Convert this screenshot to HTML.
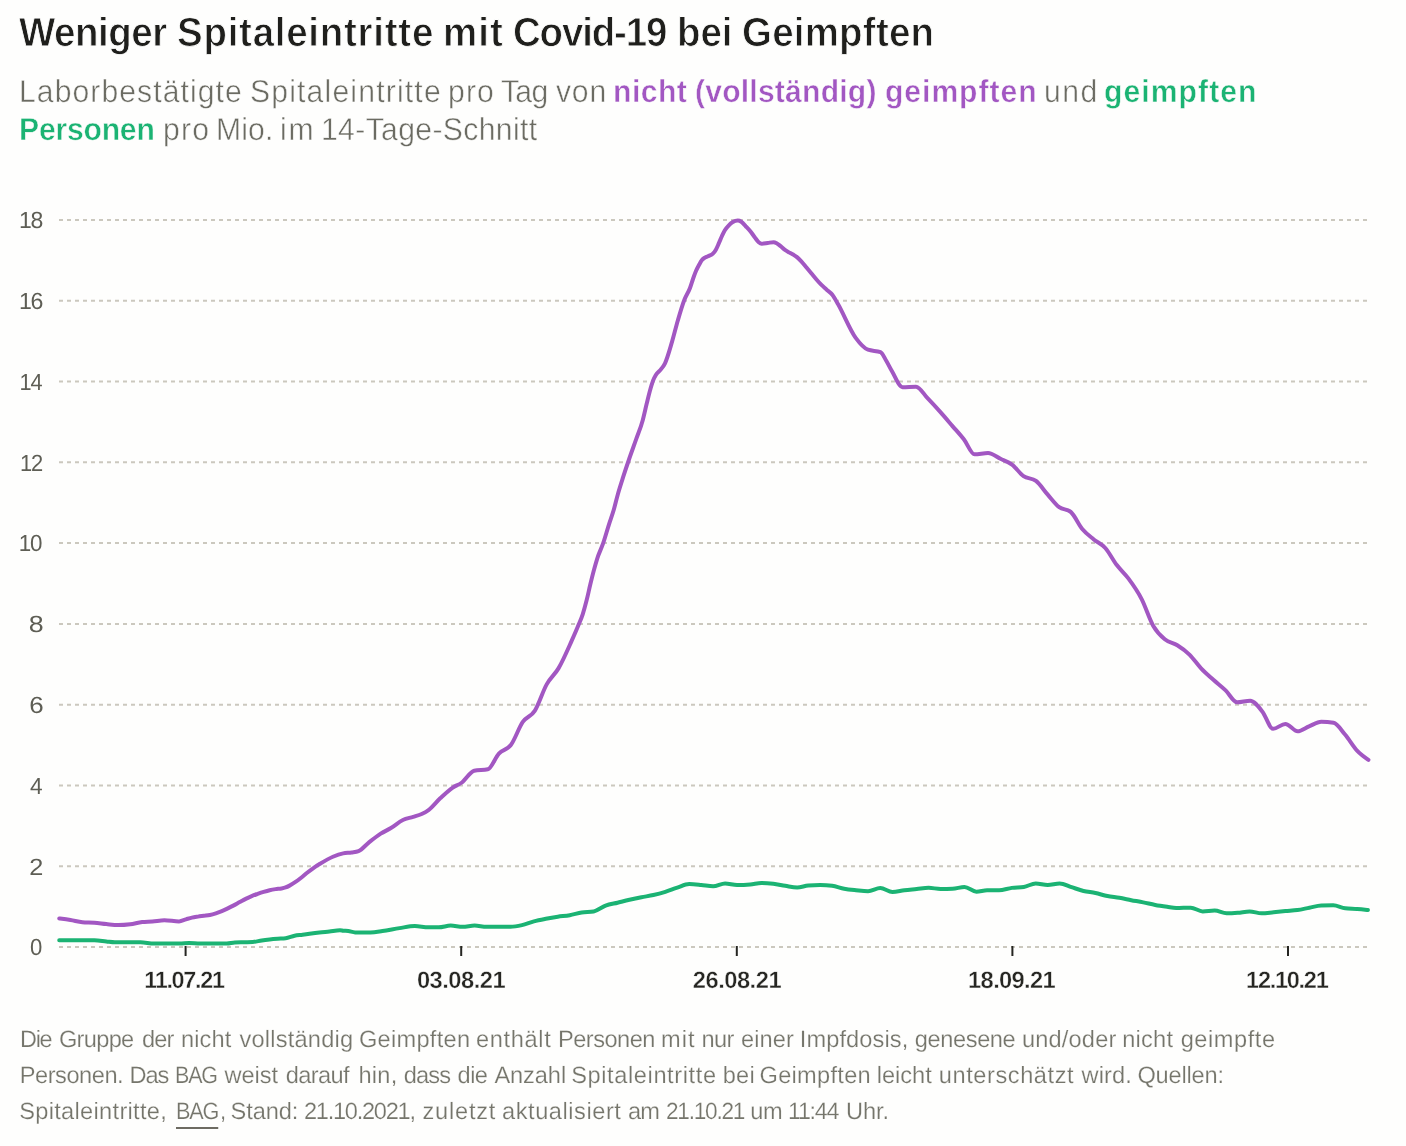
<!DOCTYPE html>
<html lang="de">
<head>
<meta charset="utf-8">
<title>Weniger Spitaleintritte mit Covid-19 bei Geimpften</title>
<style>
html,body{margin:0;padding:0}
body{width:1406px;height:1146px;position:relative;overflow:hidden;background:#fefefd;font-family:"Liberation Sans",sans-serif;text-rendering:geometricPrecision}
.ln{position:absolute;left:0;width:1406px;margin:0;padding:0;font-weight:normal;white-space:nowrap}
.ln span,.ln a{display:inline-block;position:relative;white-space:nowrap;transform-origin:0 50%}
h1.ln{font-size:40.65px;line-height:48px;height:48px;font-weight:bold;color:#1f1f1c;-webkit-text-stroke:0.85px #fefefd}
p.sub{font-size:31.7px;line-height:38px;height:38px;color:#6b6b62;-webkit-text-stroke:0.5px #fefefd}
p.sub .pu{color:#a257c2;font-weight:bold}
p.sub .gr{color:#1bb373;font-weight:bold}
p.foot{font-size:23.6px;line-height:36px;height:36px;color:#75756b;-webkit-text-stroke:0.2px #fefefd}
p.foot a{color:inherit;text-decoration:none}
p.foot a::after{content:"";position:absolute;left:0;right:0;top:32.88px;height:2px;background:#6d6b62}
svg{position:absolute;left:0;top:0}
svg text{font-family:"Liberation Sans",sans-serif;paint-order:fill stroke;text-rendering:geometricPrecision}
.yl{font-size:23.4px;fill:#5e5e55}
.xl{font-size:23.7px;fill:#262622;font-weight:bold;stroke:#fefefd;stroke-width:0.37px}

</style>
</head>
<body>
<h1 class="ln title" style="top:7.71px"><span style="left:19.47px;letter-spacing:-0.482px;transform:scaleX(0.9450)">Weniger</span> <span style="left:9.41px;letter-spacing:0.821px;transform:scaleX(0.9450)">Spitaleintritte</span> <span style="left:-7.93px;letter-spacing:1.106px;transform:scaleX(0.9450)">mit</span> <span style="left:-13.36px;letter-spacing:-1.198px;transform:scaleX(0.9450)">Covid-19</span> <span style="left:-22.56px;letter-spacing:-0.044px;transform:scaleX(0.9450)">bei</span> <span style="left:-27.91px;letter-spacing:0.279px;transform:scaleX(0.9450)">Geimpften</span></h1>
<p class="ln sub" style="top:72.32px"><span style="left:19.35px;letter-spacing:1.140px;transform:scaleX(0.9500)">Laborbestätigte</span> <span style="left:5.43px;letter-spacing:1.250px;transform:scaleX(0.9500)">Spitaleintritte</span> <span style="left:-6.67px;letter-spacing:1.202px;transform:scaleX(0.9500)">pro</span> <span style="left:-12.49px;letter-spacing:-0.733px;transform:scaleX(0.9500)">Tag</span> <span style="left:-15.20px;letter-spacing:0.846px;transform:scaleX(0.9500)">von</span> <span class="pu" style="left:-20.75px;letter-spacing:0.518px;transform:scaleX(0.9500)">nicht</span> <span class="pu" style="left:-25.49px;letter-spacing:0.218px;transform:scaleX(0.9500)">(vollständig)</span> <span class="pu" style="left:-36.01px;letter-spacing:1.015px;transform:scaleX(0.9500)">geimpften</span> <span style="left:-46.32px;letter-spacing:1.587px;transform:scaleX(0.9500)">und</span> <span class="gr" style="left:-52.42px;letter-spacing:1.133px;transform:scaleX(0.9500)">geimpften</span></p>
<p class="ln sub" style="top:110.32px"><span class="gr" style="left:19.35px;letter-spacing:-0.210px;transform:scaleX(0.9500)">Personen</span> <span style="left:11.50px;letter-spacing:1.360px;transform:scaleX(0.9500)">pro</span> <span style="left:5.90px;letter-spacing:0.173px;transform:scaleX(0.9500)">Mio.</span> <span style="left:0.12px;letter-spacing:1.960px;transform:scaleX(0.9500)">im</span> <span style="left:-5.05px;letter-spacing:0.397px;transform:scaleX(0.9500)">14-Tage-Schnitt</span></p>
<svg width="1406" height="1146" viewBox="0 0 1406 1146">
<g stroke="#cbc8be" stroke-width="2" stroke-dasharray="4 4" fill="none">
<line x1="59" x2="1368" y1="220.00" y2="220.00"/>
<line x1="59" x2="1368" y1="300.78" y2="300.78"/>
<line x1="59" x2="1368" y1="381.56" y2="381.56"/>
<line x1="59" x2="1368" y1="462.33" y2="462.33"/>
<line x1="59" x2="1368" y1="543.11" y2="543.11"/>
<line x1="59" x2="1368" y1="623.89" y2="623.89"/>
<line x1="59" x2="1368" y1="704.67" y2="704.67"/>
<line x1="59" x2="1368" y1="785.44" y2="785.44"/>
<line x1="59" x2="1368" y1="866.22" y2="866.22"/>
<line x1="59" x2="1368" y1="947.00" y2="947.00"/>
</g>
<g fill="#262622">
<rect x="184.60" y="946" width="2" height="10"/>
<rect x="460.20" y="946" width="2" height="10"/>
<rect x="735.80" y="946" width="2" height="10"/>
<rect x="1011.40" y="946" width="2" height="10"/>
<rect x="1287.00" y="946" width="2" height="10"/>
</g>
<g class="yl">
<text x="19.01" y="228.30" style="letter-spacing:-1.287px" transform="translate(19.01 0) scale(0.9858 1) translate(-19.01 0)">18</text>
<text x="19.01" y="309.08" style="letter-spacing:-1.287px" transform="translate(19.01 0) scale(0.9902 1) translate(-19.01 0)">16</text>
<text x="19.57" y="389.86" style="letter-spacing:-1.287px" transform="translate(19.57 0) scale(0.9274 1) translate(-19.57 0)">14</text>
<text x="19.96" y="470.63" style="letter-spacing:-1.287px" transform="translate(19.96 0) scale(0.9374 1) translate(-19.96 0)">12</text>
<text x="18.84" y="551.41" style="letter-spacing:-1.287px" transform="translate(18.84 0) scale(0.9569 1) translate(-18.84 0)">10</text>
<text x="28.75" y="632.19" style="letter-spacing:0.000px" transform="translate(28.75 0) scale(1.1455 1) translate(-28.75 0)">8</text>
<text x="29.19" y="712.97" style="letter-spacing:0.000px" transform="translate(29.19 0) scale(1.1091 1) translate(-29.19 0)">6</text>
<text x="29.90" y="793.74" style="letter-spacing:0.000px" transform="translate(29.90 0) scale(0.9692 1) translate(-29.90 0)">4</text>
<text x="29.22" y="874.52" style="letter-spacing:0.000px" transform="translate(29.22 0) scale(1.0818 1) translate(-29.22 0)">2</text>
<text x="29.90" y="955.30" style="letter-spacing:0.000px" transform="translate(29.90 0) scale(0.9462 1) translate(-29.90 0)">0</text>
</g>
<g class="xl">
<text x="144.23" y="988.38" style="letter-spacing:-1.303px" transform="translate(144.23 0) scale(0.9885 1) translate(-144.23 0)">11.07.21</text>
<text x="416.92" y="988.38" style="letter-spacing:-0.495px">03.08.21</text>
<text x="692.82" y="988.38" style="letter-spacing:-0.495px">26.08.21</text>
<text x="968.12" y="988.38" style="letter-spacing:-0.666px">18.09.21</text>
<text x="1246.12" y="988.38" style="letter-spacing:-1.303px" transform="translate(1246.12 0) scale(0.9947 1) translate(-1246.12 0)">12.10.21</text>
</g>
<g fill="none" stroke-width="4" stroke-linecap="round" stroke-linejoin="round" transform="translate(0 0.3)">
<path d="M59.22,940.00C62.97,940.00,66.73,940.00,70.48,940.00C74.47,940.00,78.45,940.00,82.43,940.00C86.42,940.00,90.40,940.00,94.38,940.00C98.36,940.00,102.35,940.80,106.33,941.19C109.17,941.48,112.02,942.05,114.86,942.05C119.42,942.05,123.97,942.05,128.52,942.05C132.50,942.05,136.49,942.05,140.47,942.05C145.02,942.05,149.57,943.24,154.13,943.24C158.11,943.24,162.09,943.24,166.07,943.24C170.63,943.24,175.18,943.24,179.73,943.24C182.86,943.24,185.99,942.73,189.12,942.73C192.75,942.73,196.37,943.22,200.00,943.22C203.32,943.22,206.64,943.22,209.96,943.22C213.28,943.22,216.60,943.22,219.91,943.22C222.24,943.22,224.56,943.18,226.88,943.12C229.54,943.04,232.20,942.23,234.85,942.12C238.17,941.99,241.49,942.00,244.81,941.92C247.46,941.86,250.12,941.86,252.77,941.72C255.76,941.57,258.75,940.58,261.74,940.13C264.39,939.73,267.05,939.42,269.70,939.13C272.36,938.85,275.01,938.64,277.67,938.44C280.32,938.24,282.98,938.27,285.63,937.94C288.62,937.57,291.61,936.04,294.59,935.45C297.25,934.93,299.91,934.81,302.56,934.45C304.88,934.14,307.21,933.78,309.53,933.46C312.85,933.00,316.17,932.55,319.49,932.16C322.81,931.78,326.13,931.52,329.45,931.17C332.96,930.79,336.48,929.97,340.00,929.97C341.05,929.97,342.11,930.28,343.16,930.40C344.86,930.59,346.57,930.53,348.28,930.74C350.55,931.02,352.83,932.11,355.11,932.11C360.23,932.11,365.35,932.11,370.47,932.11C374.45,932.11,378.44,931.29,382.42,930.74C388.11,929.96,393.80,928.69,399.49,927.83C404.61,927.06,409.73,925.78,414.85,925.78C419.40,925.78,423.95,926.98,428.51,926.98C431.92,926.98,435.33,926.98,438.75,926.98C442.73,926.98,446.71,925.27,450.70,925.27C454.68,925.27,458.66,926.46,462.65,926.46C466.63,926.46,470.61,925.27,474.59,925.27C478.58,925.27,482.56,926.46,486.54,926.46C490.53,926.46,494.51,926.46,498.49,926.46C502.48,926.46,506.46,926.46,510.44,926.46C514.28,926.46,518.11,925.67,521.95,924.80C525.93,923.89,529.91,922.09,533.90,921.04C537.88,919.99,541.86,919.25,545.85,918.48C549.83,917.71,553.81,917.03,557.80,916.43C561.78,915.83,565.76,915.61,569.74,914.89C573.73,914.18,577.71,912.79,581.69,912.16C585.68,911.54,589.66,911.82,593.64,911.14C597.62,910.45,601.61,906.78,605.59,905.33C609.57,903.88,613.56,903.39,617.54,902.43C621.52,901.46,625.50,900.43,629.49,899.52C633.47,898.61,637.45,897.76,641.44,896.96C645.42,896.17,649.40,895.65,653.39,894.74C657.37,893.83,661.35,892.75,665.33,891.50C669.32,890.24,673.30,888.51,677.28,887.23C681.27,885.95,685.25,883.81,689.23,883.81C693.21,883.81,697.20,884.30,701.18,884.67C705.16,885.04,709.15,886.03,713.13,886.03C717.11,886.03,721.10,883.13,725.08,883.13C729.06,883.13,733.04,884.67,737.03,884.67C741.43,884.67,745.84,884.50,750.24,884.15C753.94,883.87,757.64,882.62,761.34,882.62C765.32,882.62,769.30,882.99,773.29,883.47C777.27,883.95,781.25,884.89,785.23,885.52C789.22,886.15,793.20,887.23,797.18,887.23C800.88,887.23,804.58,885.50,808.28,885.18C812.26,884.84,816.24,884.67,820.23,884.67C824.21,884.67,828.19,884.95,832.18,885.52C836.16,886.09,840.14,887.68,844.13,888.42C848.11,889.16,852.09,889.53,856.07,889.96C860.06,890.39,864.04,890.98,868.02,890.98C872.12,890.98,876.22,887.74,880.31,887.74C884.35,887.74,888.39,891.67,892.43,891.67C896.42,891.67,900.40,890.44,904.38,889.96C908.48,889.47,912.57,889.17,916.67,888.76C920.65,888.37,924.64,887.57,928.62,887.57C932.60,887.57,936.59,888.59,940.57,888.59C944.55,888.59,948.53,888.54,952.52,888.42C956.50,888.31,960.48,886.72,964.47,886.72C968.45,886.72,972.43,891.33,976.42,891.33C979.97,891.33,983.52,889.96,987.07,889.96C991.05,889.96,995.04,889.96,999.02,889.96C1003.29,889.96,1007.55,888.11,1011.82,887.57C1015.80,887.06,1019.79,887.28,1023.77,886.72C1027.75,886.15,1031.74,883.13,1035.72,883.13C1039.70,883.13,1043.68,884.67,1047.67,884.67C1051.65,884.67,1055.63,883.13,1059.62,883.13C1063.60,883.13,1067.58,885.63,1071.56,886.89C1075.55,888.14,1079.53,889.68,1083.51,890.64C1087.50,891.61,1091.48,891.84,1095.46,892.69C1099.45,893.55,1103.43,894.97,1107.41,895.77C1111.39,896.56,1115.38,896.79,1119.36,897.47C1123.34,898.16,1127.33,899.10,1131.31,899.87C1135.29,900.63,1139.27,901.29,1143.26,902.09C1147.24,902.88,1151.22,903.91,1155.21,904.65C1159.19,905.39,1163.17,905.96,1167.16,906.53C1170.18,906.96,1173.21,907.72,1176.24,907.72C1181.08,907.72,1185.91,907.38,1190.75,907.38C1194.73,907.38,1198.72,911.14,1202.70,911.14C1206.68,911.14,1210.67,910.28,1214.65,910.28C1218.63,910.28,1222.61,913.02,1226.60,913.02C1230.30,913.02,1233.99,912.80,1237.69,912.50C1241.68,912.19,1245.66,911.14,1249.64,911.14C1253.62,911.14,1257.61,913.02,1261.59,913.02C1265.57,913.02,1269.56,912.36,1273.54,911.99C1277.52,911.62,1281.50,911.17,1285.49,910.80C1289.47,910.43,1293.45,910.34,1297.44,909.77C1301.42,909.20,1305.40,908.15,1309.39,907.38C1313.37,906.61,1317.35,905.27,1321.33,905.16C1325.32,905.05,1329.30,904.99,1333.28,904.99C1337.27,904.99,1341.25,907.61,1345.23,908.06C1349.21,908.52,1353.20,908.44,1357.18,908.75C1360.77,909.02,1364.35,909.40,1367.93,909.77" stroke="#1bb373"/>
<path d="M59.22,918.14C62.97,918.61,66.73,919.07,70.48,919.68C74.47,920.31,78.45,921.55,82.43,921.90C86.42,922.24,90.40,922.09,94.38,922.41C98.36,922.72,102.35,923.38,106.33,923.77C110.31,924.17,114.30,924.80,118.28,924.80C122.26,924.80,126.24,924.46,130.23,923.95C134.21,923.43,138.19,922.12,142.18,921.72C145.59,921.38,149.00,921.46,152.42,921.21C156.40,920.92,160.38,920.02,164.37,920.02C169.25,920.02,174.13,921.09,179.01,921.09C181.33,921.09,183.65,919.67,185.97,919.00C187.97,918.42,189.96,917.75,191.95,917.30C193.94,916.86,195.93,916.61,197.92,916.31C199.91,916.01,201.91,915.78,203.90,915.51C205.89,915.25,207.88,915.13,209.87,914.71C211.86,914.30,213.85,913.69,215.85,913.02C217.84,912.36,219.83,911.56,221.82,910.73C223.81,909.90,225.80,908.99,227.80,908.04C229.79,907.10,231.78,906.10,233.77,905.06C235.76,904.01,237.75,902.85,239.74,901.77C241.74,900.69,243.73,899.58,245.72,898.58C247.71,897.59,249.70,896.63,251.69,895.80C253.68,894.97,255.68,894.30,257.67,893.60C259.66,892.91,261.65,892.23,263.64,891.61C265.63,891.00,267.62,890.39,269.62,889.92C271.61,889.46,273.60,889.12,275.59,888.83C277.58,888.53,279.57,888.52,281.56,888.13C282.89,887.87,284.22,887.60,285.55,887.13C286.88,886.67,288.20,886.03,289.53,885.34C291.52,884.31,293.51,883.02,295.50,881.66C297.50,880.30,299.49,878.75,301.48,877.18C303.47,875.60,305.46,873.77,307.45,872.20C309.45,870.62,311.44,869.10,313.43,867.72C315.62,866.19,317.81,864.86,320.00,863.53C324.31,860.92,328.61,858.31,332.92,856.47C336.33,855.00,339.74,853.73,343.16,853.04C346.00,852.47,348.85,852.63,351.69,852.19C353.97,851.83,356.24,851.73,358.52,850.82C361.93,849.45,365.35,844.97,368.76,842.26C372.75,839.10,376.73,835.92,380.71,833.36C384.13,831.18,387.54,829.79,390.95,827.72C394.94,825.30,398.92,821.55,402.90,819.67C406.32,818.06,409.73,817.69,413.14,816.59C415.99,815.67,418.83,815.02,421.68,813.68C423.95,812.61,426.23,811.41,428.51,809.75C432.49,806.83,436.47,801.47,440.46,797.77C444.44,794.06,448.42,790.23,452.40,787.50C455.46,785.41,458.51,784.66,461.56,782.45C465.76,779.42,469.95,771.24,474.14,770.40C478.69,769.49,483.24,769.94,487.80,769.03C491.49,768.29,495.19,757.30,498.89,753.30C502.87,749.00,506.86,750.03,510.84,744.76C514.82,739.49,518.81,727.38,522.79,721.68C526.77,715.98,530.75,716.83,534.74,710.56C538.72,704.30,542.70,691.19,546.69,684.07C550.67,676.94,554.65,674.65,558.63,667.83C562.93,660.47,567.22,650.45,571.52,640.85C573.91,635.51,576.29,630.15,578.68,624.25C580.02,620.94,581.37,618.08,582.71,613.96C584.01,609.96,585.32,605.17,586.62,600.03C587.84,595.22,589.06,589.33,590.28,584.29C591.50,579.24,592.72,574.29,593.94,569.75C595.04,565.67,596.14,561.73,597.24,558.25C599.19,552.07,601.15,548.79,603.10,543.11C605.10,537.31,607.09,529.99,609.08,523.73C610.67,518.76,612.26,514.71,613.85,509.20C615.18,504.56,616.52,498.66,617.86,493.88C619.60,487.65,621.35,482.33,623.10,476.87C625.06,470.71,627.02,464.92,628.99,459.19C631.39,452.19,633.79,445.77,636.19,438.90C638.37,432.66,640.56,427.97,642.74,419.92C644.05,415.08,645.36,408.89,646.67,403.55C647.76,399.10,648.85,394.39,649.94,390.46C651.03,386.53,652.12,382.75,653.21,379.98C654.09,377.77,654.96,376.24,655.83,374.75C657.58,371.77,659.33,371.19,661.07,368.86C662.38,367.10,663.69,365.66,665.00,362.96C667.33,358.16,669.67,349.48,672.00,341.55C673.92,335.03,675.84,326.98,677.76,320.40C680.01,312.71,682.25,305.00,684.49,299.24C686.32,294.51,688.16,292.58,690.00,287.65C691.00,284.97,691.99,281.51,692.99,278.69C693.98,275.87,694.98,273.06,695.97,270.73C696.97,268.41,697.97,266.59,698.96,264.77C699.96,262.94,700.95,261.04,701.95,259.79C702.94,258.55,703.94,257.96,704.94,257.30C706.26,256.43,707.59,256.28,708.92,255.61C710.25,254.95,711.57,254.66,712.90,253.33C713.90,252.32,714.89,251.09,715.89,249.35C716.88,247.61,717.88,245.12,718.88,242.88C719.87,240.64,720.87,238.07,721.86,235.92C722.86,233.76,723.85,231.62,724.85,229.95C726.18,227.72,727.51,226.33,728.83,224.97C730.16,223.61,731.49,222.56,732.82,221.79C734.48,220.83,736.14,220.30,737.80,220.30C738.96,220.30,740.12,220.76,741.28,221.49C742.77,222.43,744.27,224.41,745.76,225.97C747.42,227.71,749.08,229.36,750.74,231.44C752.07,233.10,753.39,235.17,754.72,236.91C756.05,238.65,757.38,240.80,758.71,241.89C759.70,242.70,760.70,243.38,761.69,243.38C763.68,243.38,765.68,242.93,767.67,242.68C769.66,242.43,771.65,241.89,773.64,241.89C774.64,241.89,775.63,242.37,776.63,242.88C777.96,243.56,779.28,244.79,780.61,245.86C781.94,246.94,783.27,248.35,784.59,249.35C786.25,250.59,787.91,251.38,789.57,252.33C790.90,253.09,792.23,253.69,793.56,254.52C794.88,255.35,796.21,256.18,797.54,257.30C798.87,258.43,800.19,259.84,801.52,261.28C803.18,263.09,804.84,265.26,806.50,267.25C808.16,269.24,809.82,271.23,811.48,273.22C813.14,275.21,814.80,277.28,816.46,279.19C818.12,281.10,819.78,283.00,821.44,284.66C823.10,286.32,824.76,287.65,826.42,289.14C828.39,290.91,830.36,291.89,832.33,294.43C834.25,296.90,836.18,300.73,838.10,304.05C843.90,314.09,849.71,329.41,855.52,337.32C859.68,342.99,863.84,347.90,868.00,349.44C872.16,350.98,876.32,350.21,880.48,351.74C882.40,352.45,884.32,357.19,886.24,360.40C888.16,363.60,890.08,367.67,892.00,370.98C895.52,377.04,899.05,386.94,902.57,386.94C907.05,386.94,911.53,386.36,916.01,386.36C919.85,386.36,923.69,393.91,927.53,397.90C931.69,402.22,935.85,406.72,940.01,411.37C944.17,416.01,948.33,420.95,952.49,425.79C956.33,430.25,960.17,434.30,964.01,439.25C967.53,443.80,971.05,454.06,974.57,454.06C979.05,454.06,983.53,452.72,988.01,452.72C992.17,452.72,996.33,456.48,1000.49,458.49C1004.33,460.34,1008.17,461.37,1012.01,464.26C1015.85,467.14,1019.69,473.09,1023.53,475.80C1027.69,478.73,1031.85,477.40,1036.01,480.60C1039.85,483.56,1043.69,489.73,1047.53,494.07C1051.42,498.46,1055.31,503.89,1059.20,506.81C1063.04,509.69,1066.88,508.39,1070.72,511.56C1074.56,514.73,1078.40,524.07,1082.24,528.67C1086.08,533.26,1089.92,535.95,1093.76,539.12C1097.60,542.29,1101.44,543.40,1105.28,547.67C1109.12,551.95,1112.96,559.71,1116.80,564.78C1120.65,569.85,1124.49,572.94,1128.33,578.08C1132.81,584.09,1137.29,590.20,1141.77,598.99C1145.61,606.52,1149.45,618.95,1153.29,625.60C1157.13,632.25,1160.97,635.70,1164.81,638.90C1168.97,642.38,1173.13,642.37,1177.29,644.99C1181.43,647.59,1185.56,650.45,1189.70,654.53C1193.49,658.28,1197.29,664.00,1201.08,668.04C1205.17,672.39,1209.26,675.81,1213.35,679.48C1217.44,683.16,1221.53,686.20,1225.62,690.11C1229.44,693.77,1233.25,702.05,1237.07,702.05C1241.43,702.05,1245.79,700.42,1250.16,700.42C1254.25,700.42,1258.34,706.14,1262.43,711.37C1265.97,715.91,1269.51,728.54,1273.06,728.54C1277.15,728.54,1281.24,723.63,1285.33,723.63C1289.42,723.63,1293.51,730.99,1297.60,730.99C1301.41,730.99,1305.23,727.62,1309.05,726.09C1313.14,724.44,1317.23,721.51,1321.32,721.51C1325.41,721.51,1329.50,721.84,1333.58,722.49C1337.40,723.10,1341.22,729.78,1345.04,734.26C1349.13,739.07,1353.21,746.29,1357.30,750.62C1361.01,754.54,1364.72,757.07,1368.43,759.61" stroke="#a257c2"/>
</g>
</svg>
<p class="ln foot" style="top:1022.12px"><span style="left:19.71px;letter-spacing:-1.298px;transform:scaleX(0.9942)">Die</span> <span style="left:20.82px;letter-spacing:-0.675px">Gruppe</span> <span style="left:22.60px;letter-spacing:-0.772px">der</span> <span style="left:23.24px;letter-spacing:0.129px">nicht</span> <span style="left:24.80px;letter-spacing:0.204px">vollständig</span> <span style="left:23.90px;letter-spacing:0.297px">Geimpften</span> <span style="left:22.81px;letter-spacing:0.669px">enthält</span> <span style="left:22.81px;letter-spacing:-0.511px">Personen</span> <span style="left:22.43px;letter-spacing:1.052px">mit</span> <span style="left:21.56px;letter-spacing:-0.622px">nur</span> <span style="left:22.36px;letter-spacing:0.098px">einer</span> <span style="left:21.63px;letter-spacing:0.104px">Impfdosis,</span> <span style="left:21.50px;letter-spacing:-0.390px">genesene</span> <span style="left:21.51px;letter-spacing:0.188px">und/oder</span> <span style="left:20.69px;letter-spacing:0.204px">nicht</span> <span style="left:21.67px;letter-spacing:0.561px">geimpfte</span></p>
<p class="ln foot" style="top:1058.12px"><span style="left:19.70px;letter-spacing:-0.450px">Personen.</span> <span style="left:19.42px;letter-spacing:-1.130px">Das</span> <span style="left:19.77px;letter-spacing:-1.298px;transform:scaleX(0.9091)">BAG</span> <span style="left:16.78px;letter-spacing:-0.050px">weist</span> <span style="left:18.00px;letter-spacing:-0.609px">darauf</span> <span style="left:20.79px;letter-spacing:0.272px">hin,</span> <span style="left:20.39px;letter-spacing:-0.813px">dass</span> <span style="left:21.13px;letter-spacing:-0.582px">die</span> <span style="left:21.62px;letter-spacing:-0.080px">Anzahl</span> <span style="left:20.18px;letter-spacing:0.602px">Spitaleintritte</span> <span style="left:19.70px;letter-spacing:0.278px">bei</span> <span style="left:17.61px;letter-spacing:0.297px">Geimpften</span> <span style="left:16.72px;letter-spacing:-0.005px">leicht</span> <span style="left:17.19px;letter-spacing:0.567px">unterschätzt</span> <span style="left:18.00px;letter-spacing:0.135px">wird.</span> <span style="left:16.84px;letter-spacing:-0.189px">Quellen:</span></p>
<p class="ln foot" style="top:1094.12px"><span style="left:19.20px;letter-spacing:0.314px">Spitaleintritte,</span> <a style="left:21.24px;letter-spacing:-1.298px;transform:scaleX(0.9181)">BAG</a><span style="left:19.15px;letter-spacing:0.000px;transform:scaleX(0.9333)">,</span> <span style="left:16.89px;letter-spacing:-0.071px">Stand:</span> <span style="left:15.93px;letter-spacing:-1.248px">21.10.2021,</span> <span style="left:17.05px;letter-spacing:0.778px">zuletzt</span> <span style="left:16.44px;letter-spacing:0.544px">aktualisiert</span> <span style="left:16.57px;letter-spacing:-0.922px">am</span> <span style="left:16.61px;letter-spacing:-1.298px;transform:scaleX(0.9587)">21.10.21</span> <span style="left:13.24px;letter-spacing:-0.422px">um</span> <span style="left:12.75px;letter-spacing:-1.298px;transform:scaleX(0.9867)">11:44</span> <span style="left:13.16px;letter-spacing:-0.138px">Uhr.</span></p>
</body>
</html>
